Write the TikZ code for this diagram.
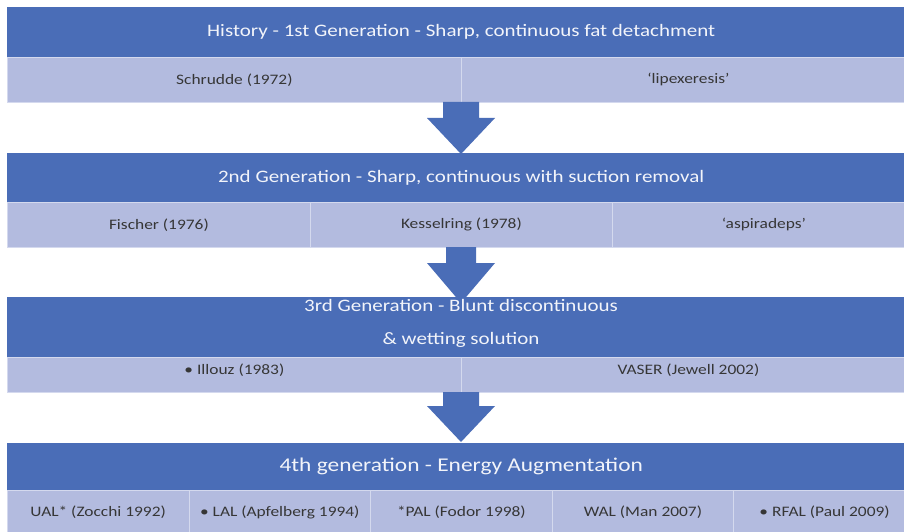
\documentclass[tikz,border=0pt]{standalone}
\usepackage{fontspec}
\setmainfont{Carlito}[FakeStretch=1.2]
\usetikzlibrary{calc}
\definecolor{hdrblue}{HTML}{4A6DB7}
\definecolor{subl}{HTML}{B3BBDF}
\definecolor{subtxt}{HTML}{363636}
\definecolor{divl}{HTML}{D4D9EE}
\definecolor{hdrtxt}{HTML}{F2F4FA}
\begin{document}
\begin{tikzpicture}[x=1pt,y=-1pt,
  hdr/.style={fill=hdrblue, draw=none, text=hdrtxt, anchor=north west, inner sep=0pt,
    minimum width=908pt, font=\fontsize{17.5}{21}\selectfont, align=center},
  hdrtext/.style={text=hdrtxt, inner sep=0pt, font=\fontsize{17.5}{21}\selectfont, align=center},
  cell/.style={fill=subl, draw=divl, line width=0.8pt, text=subtxt, anchor=north west,
    inner sep=0pt, font=\fontsize{14.5}{18}\selectfont},
  arrowfill/.style={fill=hdrblue, draw=none}]
\useasboundingbox (0,0) rectangle (904,532);
\fill[white] (0,0) rectangle (904,532);

% Band 1
\node[hdr, minimum height=50pt] (h1) at (7,7) {History - 1st Generation - Sharp, continuous fat detachment};
\node[cell, minimum width=454pt, minimum height=45pt] (c11) at (7,57) {Schrudde (1972)};
\node[cell, minimum width=454pt, minimum height=45pt] (c12) at (461,57) {‘lipexeresis’};

% Band 2
\node[hdr, minimum height=49pt] (h2) at (7,153) {2nd Generation - Sharp, continuous with suction removal};
\node[cell, minimum width=303pt, minimum height=45pt] (c21) at (7,202) {Fischer (1976)};
\node[cell, minimum width=302pt, minimum height=45pt] (c22) at (310,202) {Kesselring (1978)};
\node[cell, minimum width=303pt, minimum height=45pt] (c23) at (612,202) {‘aspiradeps’};

% Band 3
\node[hdr, minimum height=60pt] (h3) at (7,297) {};
\node[cell, minimum width=454pt, minimum height=35pt] (c31) at (7,357) {\raisebox{11pt}{• Illouz (1983)}};
\node[cell, minimum width=454pt, minimum height=35pt] (c32) at (461,357) {\raisebox{11pt}{VASER (Jewell 2002)}};

% Band 4
\node[hdr, minimum height=47pt, font=\fontsize{19.5}{24}\selectfont] (h4) at (7,443) {4th generation - Energy Augmentation};
\node[cell, minimum width=181.6pt, minimum height=44pt] (c41) at (7,490) {UAL* (Zocchi 1992)};
\node[cell, minimum width=181.6pt, minimum height=44pt] (c42) at (188.6,490) {• LAL (Apfelberg 1994)};
\node[cell, minimum width=181.6pt, minimum height=44pt] (c43) at (370.2,490) {*PAL (Fodor 1998)};
\node[cell, minimum width=181.6pt, minimum height=44pt] (c44) at (551.8,490) {WAL (Man 2007)};
\node[cell, minimum width=181.6pt, minimum height=44pt] (c45) at (733.4,490) {• RFAL (Paul 2009)};

% Arrows
\coordinate (a1t) at (461,102); \coordinate (a1h) at (461,154);
\coordinate (a2t) at (461,247); \coordinate (a2h) at (461,303);
\coordinate (a3t) at (461,392); \coordinate (a3h) at (461,442);

\fill[arrowfill] ($(a1t)+(-18,0)$) -- ($(a1t)+(18,0)$) -- ($(a1t)+(18,16)$) -- ($(a1t)+(34,16)$) -- (a1h) -- ($(a1t)+(-34,16)$) -- ($(a1t)+(-18,16)$) -- cycle;
\fill[arrowfill] ($(a2t)+(-15,0)$) -- ($(a2t)+(15,0)$) -- ($(a2t)+(15,16)$) -- ($(a2t)+(34,16)$) -- (a2h) -- ($(a2t)+(-34,16)$) -- ($(a2t)+(-15,16)$) -- cycle;
\fill[arrowfill] ($(a3t)+(-18,0)$) -- ($(a3t)+(18,0)$) -- ($(a3t)+(18,14)$) -- ($(a3t)+(34,14)$) -- (a3h) -- ($(a3t)+(-34,14)$) -- ($(a3t)+(-18,14)$) -- cycle;

% Band 3 title text (on top)
\node[hdrtext] (h3t) at (461,323) {3rd Generation - Blunt discontinuous\\[12pt]\&~wetting solution};
\end{tikzpicture}
\end{document}
